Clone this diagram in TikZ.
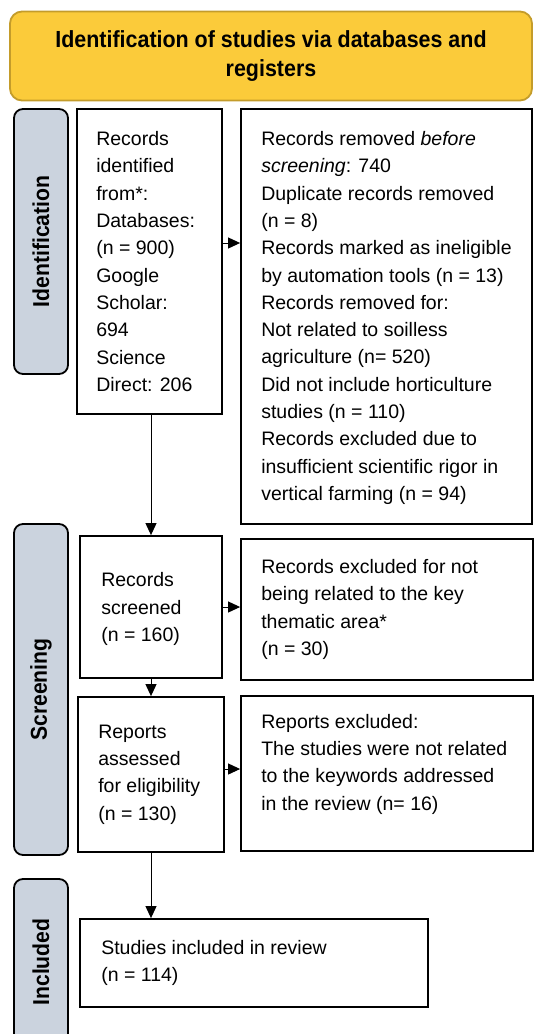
\documentclass[tikz,border=0pt]{standalone}
\usepackage{fontspec}
\setmainfont{Liberation Sans}
\newfontfamily\narrowfont{Liberation Sans}[FakeStretch=0.92]
\usetikzlibrary{arrows.meta,calc}
\definecolor{titlefill}{RGB}{251,203,58}
\definecolor{titledraw}{RGB}{196,156,42}
\definecolor{sidefill}{RGB}{203,211,222}
\begin{document}
\begin{tikzpicture}[x=1pt,y=-1pt,
  box/.style={draw=black, line width=1.8pt, fill=white, inner sep=0pt},
  side/.style={draw=black, line width=1.8pt, fill=sidefill, rounded corners=9pt, minimum width=54pt, inner sep=0pt},
  txt/.style={align=left, anchor=west, inner sep=0pt, font=\fontsize{19.5}{27.3}\selectfont},
  sidetxt/.style={rotate=90, inner sep=0pt, font=\narrowfont\bfseries\fontsize{23}{26}\selectfont},
  arr/.style={line width=1pt, -{Triangle[length=12pt,width=11pt]}}]
\useasboundingbox (0,0) rectangle (535,1034);
\clip (0,0) rectangle (535,1034);
\fill[white] (0,0) rectangle (535,1034);

% title
\node[draw=titledraw, fill=titlefill, line width=1.8pt, rounded corners=12pt,
      minimum width=522pt, minimum height=89pt, inner sep=0pt, align=center,
      font=\narrowfont\bfseries\fontsize{23.3}{29.5}\selectfont] (title) at (271,56)
      {Identification of studies via databases and\\registers};

% side labels
\node[side, minimum height=265pt] (sI) at (41,241.5) {};
\node[sidetxt] (sIt) at (sI.center) {Identification};
\node[side, minimum height=331pt] (sS) at (41,689.5) {};
\node[sidetxt] (sSt) at (sS.center) {Screening};
\node[side, minimum height=166pt] (sN) at (41,962) {};
\node[sidetxt] (sNt) at (sN.center) {Included};

% boxes
\node[box, minimum width=145pt, minimum height=305pt] (id) at (149.5,261.5) {};
\node[box, minimum width=291pt, minimum height=415pt] (rem) at (386.5,316.5) {};
\node[box, minimum width=142pt, minimum height=142pt] (scr) at (151,607) {};
\node[box, minimum width=292pt, minimum height=141pt] (ex1) at (387,609.5) {};
\node[box, minimum width=146pt, minimum height=155pt] (ass) at (151,774.5) {};
\node[box, minimum width=292pt, minimum height=155pt] (ex2) at (387,773.5) {};
\node[box, minimum width=348pt, minimum height=88pt] (inc) at (254,963) {};

% texts
\node[txt] (idt) at ([xshift=20pt]id.west) {Records\\identified\\from*:\\Databases:\\(n = 900)\\Google\\Scholar:\\694\\Science\\Direct: 206};
\node[txt] (remt) at ([xshift=21pt,yshift=-1.5pt]rem.west) {Records removed \textit{before}\\\textit{screening}: 740\\Duplicate records removed\\(n = 8)\\Records marked as ineligible\\by automation tools (n = 13)\\Records removed for:\\Not related to soilless\\agriculture (n= 520)\\Did not include horticulture\\studies (n = 110)\\Records excluded due to\\insufficient scientific rigor in\\vertical farming (n = 94)};
\node[txt] (scrt) at ([xshift=22pt,yshift=-2pt]scr.west) {Records\\screened\\(n = 160)};
\node[txt] (ex1t) at ([xshift=21pt]ex1.west) {Records excluded for not\\being related to the key\\thematic area*\\(n = 30)};
\node[txt] (asst) at ([xshift=21pt]ass.west) {Reports\\assessed\\for eligibility\\(n = 130)};
\node[txt] (ex2t) at ([xshift=21pt,yshift=9.5pt]ex2.west) {Reports excluded:\\The studies were not related\\to the keywords addressed\\in the review (n= 16)};
\node[txt] (inct) at ([xshift=22pt]inc.west) {Studies included in review\\(n = 114)};

% connectors
\coordinate (a1) at ([yshift=18.5pt]id.east);
\draw[arr] (a1) -- (a1 -| rem.west);
\draw[arr] (id.south -| scr.north) -- (scr.north);
\draw[arr] (scr.east) -- (scr.east -| ex1.west);
\draw[arr] (scr.south) -- (scr.south |- ass.north);
\coordinate (a2) at ([yshift=5.5pt]ass.east);
\draw[arr] (a2) -- (a2 -| ex2.west);
\draw[arr] (ass.south) -- (ass.south |- inc.north);
\end{tikzpicture}
\end{document}
